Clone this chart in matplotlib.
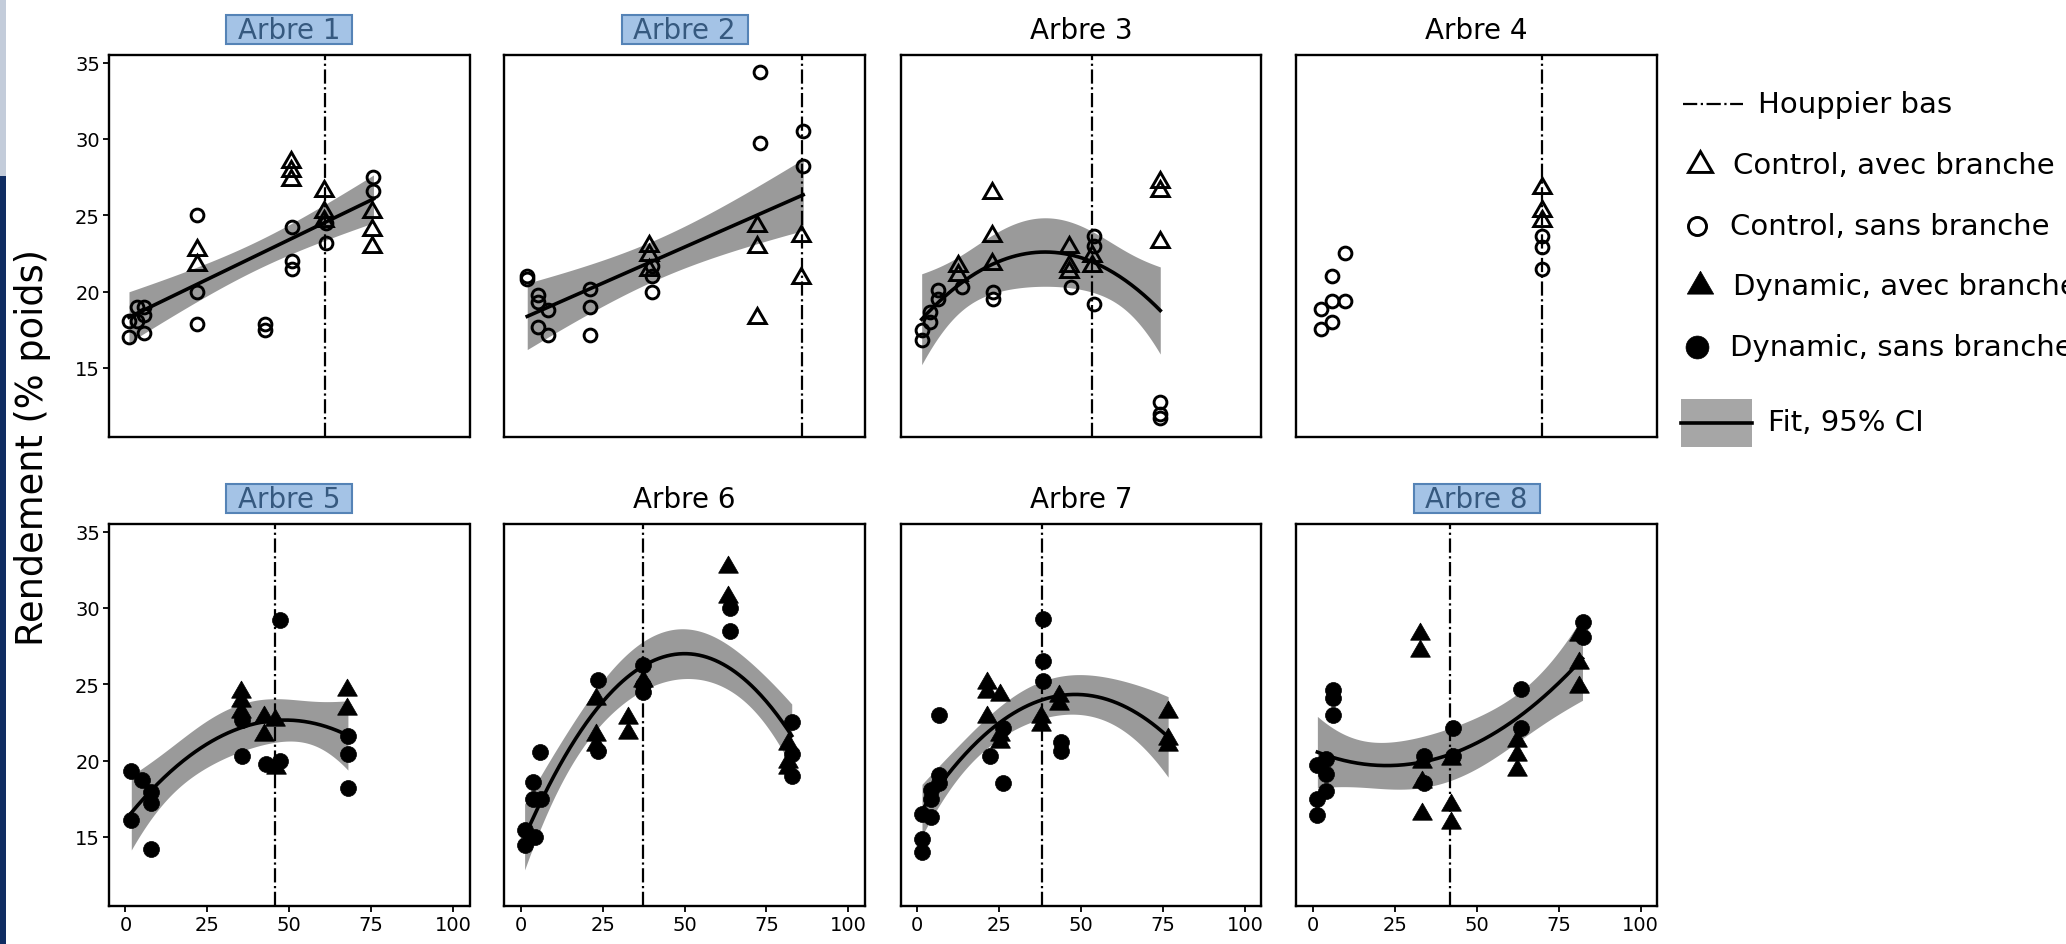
import numpy as np
import matplotlib
matplotlib.use("Agg")
import matplotlib.pyplot as plt
from matplotlib.lines import Line2D
from matplotlib.patches import Rectangle

# ---------------- data ----------------
titles = ["Arbre 1", "Arbre 2", "Arbre 3", "Arbre 4",
          "Arbre 5", "Arbre 6", "Arbre 7", "Arbre 8"]
highlighted = [True, True, False, False, True, False, False, True]
houppier_bas = [61.0, 85.7, 53.3, 70.0, 45.8, 37.2, 38.1, 42.0]
fit_degree = [1, 1, 2, 0, 2, 2, 2, 2]      # 0 = no fit drawn
dynamic = [False, False, False, False, True, True, True, True]
x_ticks = [0, 25, 50, 75, 100]
y_ticks = [15, 20, 25, 30, 35]

# Arbre 1 (Control)
a1_avec_x = [21.7, 21.7, 50.5, 50.5, 50.5, 60.6, 60.6, 60.6, 75.2, 75.2, 75.2]
a1_avec_y = [22.7, 21.75, 28.5, 27.9, 27.3, 26.6, 25.2, 24.6, 25.2, 24.0, 22.9]
a1_sans_x = [1.1, 1.1, 3.4, 3.4, 5.6, 5.6, 5.6, 21.7, 21.7, 21.7, 42.6, 42.6,
             50.8, 50.8, 50.8, 61.3, 61.3, 75.7, 75.7]
a1_sans_y = [18.1, 17.0, 19.0, 18.05, 19.0, 18.44, 17.29, 25.0, 20.0, 17.85, 17.9, 17.46,
             24.2, 22.0, 21.5, 24.5, 23.2, 27.5, 26.6]

# Arbre 2 (Control)
a2_avec_x = [39.2, 39.2, 39.2, 72.0, 72.0, 72.0, 85.5, 85.5]
a2_avec_y = [23.0, 22.4, 21.4, 24.3, 22.9, 18.27, 23.67, 20.88]
a2_sans_x = [2.0, 2.0, 5.4, 5.4, 8.4, 5.4, 8.4, 21.1, 21.1, 21.1, 40.0, 40.0, 40.0,
             73.0, 73.0, 86.2, 86.2]
a2_sans_y = [21.05, 20.8, 19.75, 19.3, 18.76, 17.68, 17.13, 20.18, 18.99, 17.18,
             21.7, 21.05, 19.97, 34.4, 29.73, 30.5, 28.24]

# Arbre 3 (Control)
a3_avec_x = [12.6, 12.6, 22.8, 22.8, 22.8, 46.4, 46.4, 46.4, 53.3, 53.3, 74.2, 74.2, 74.2]
a3_avec_y = [21.7, 21.1, 26.46, 23.63, 21.8, 22.9, 21.7, 21.27, 22.36, 21.7, 27.16, 26.6, 23.24]
a3_sans_x = [1.4, 1.4, 4.0, 4.0, 6.5, 6.5, 13.6, 23.3, 23.3, 46.9, 54.1, 54.1, 54.1,
             74.2, 74.2, 74.2]
a3_sans_y = [16.8, 17.5, 18.0, 18.66, 20.07, 19.53, 20.29, 19.97, 19.53, 20.3, 23.67, 23.0,
             19.2, 12.78, 12.0, 11.7]

# Arbre 4 (Control)
a4_avec_x = [70.0, 70.0, 70.0]
a4_avec_y = [26.8, 25.3, 24.65]
a4_sans_x = [9.7, 5.9, 9.7, 5.9, 2.4, 5.9, 2.4, 70.0, 70.0, 70.0]
a4_sans_y = [22.5, 21.05, 19.4, 19.4, 18.87, 18.0, 17.57, 23.67, 22.9, 21.45]

# Arbre 5 (Dynamic)
a5_avec_x = [35.3, 35.3, 35.3, 42.3, 42.3, 45.5, 46.1, 67.7, 67.7]
a5_avec_y = [24.5, 23.9, 23.2, 22.87, 21.67, 22.65, 19.5, 24.6, 23.4]
a5_sans_x = [1.8, 1.8, 5.1, 7.8, 7.8, 7.8, 35.6, 35.6, 42.8, 47.1, 47.1, 67.9, 67.9, 67.9]
a5_sans_y = [19.3, 16.1, 18.7, 17.95, 17.19, 14.19, 22.65, 20.31, 19.8, 29.2, 19.96,
             21.6, 20.4, 18.2]

# Arbre 6 (Dynamic)
a6_avec_x = [63.3, 63.3, 23.0, 23.0, 23.0, 32.7, 32.7, 37.4, 81.6, 81.6, 81.6]
a6_avec_y = [32.66, 30.74, 24.03, 21.67, 21.0, 22.8, 21.8, 25.2, 21.1, 19.9, 19.5]
a6_sans_x = [1.2, 1.2, 4.3, 3.8, 3.8, 6.3, 6.0, 23.7, 23.7, 37.4, 37.4, 37.4,
             63.8, 63.8, 82.7, 82.7, 82.7]
a6_sans_y = [15.48, 14.45, 15.0, 18.6, 17.47, 17.47, 20.53, 25.3, 20.6, 26.26, 24.95, 24.5,
             29.97, 28.5, 22.5, 20.46, 19.0]

# Arbre 7 (Dynamic)
a7_avec_x = [21.4, 21.4, 25.4, 21.4, 25.4, 25.4, 37.9, 37.9, 43.4, 43.4, 76.6, 76.6, 76.6]
a7_avec_y = [25.05, 24.5, 24.3, 22.87, 21.7, 21.2, 22.87, 22.3, 24.2, 23.7, 23.2, 21.4, 21.0]
a7_sans_x = [1.5, 1.5, 1.5, 4.1, 4.1, 4.1, 6.6, 6.6, 6.6, 22.2, 26.2, 26.2,
             38.5, 38.5, 38.5, 44.0, 44.0]
a7_sans_y = [14.85, 14.0, 16.5, 16.3, 17.5, 18.06, 18.5, 19.04, 23.0, 20.29, 18.5, 22.1,
             29.27, 26.5, 25.23, 21.2, 20.62]

# Arbre 8 (Dynamic)
a8_avec_x = [32.6, 32.6, 33.2, 33.2, 33.2, 42.2, 42.2, 42.2, 62.4, 62.4, 62.4, 81.3, 81.3, 81.3]
a8_avec_y = [28.3, 27.17, 19.9, 18.6, 16.5, 20.1, 17.1, 15.9, 21.3, 20.35, 19.37, 28.2, 26.4, 24.8]
a8_sans_x = [1.4, 1.4, 1.4, 4.1, 4.1, 4.1, 6.3, 6.3, 6.3, 33.9, 33.9, 42.9, 42.9,
             63.5, 63.5, 82.3, 82.3]
a8_sans_y = [16.46, 17.5, 19.7, 19.1, 18.0, 20.1, 24.6, 24.07, 22.98, 20.3, 18.5, 22.15,
             20.3, 24.7, 22.15, 29.05, 28.1]

avec_x = [a1_avec_x, a2_avec_x, a3_avec_x, a4_avec_x, a5_avec_x, a6_avec_x, a7_avec_x, a8_avec_x]
avec_y = [a1_avec_y, a2_avec_y, a3_avec_y, a4_avec_y, a5_avec_y, a6_avec_y, a7_avec_y, a8_avec_y]
sans_x = [a1_sans_x, a2_sans_x, a3_sans_x, a4_sans_x, a5_sans_x, a6_sans_x, a7_sans_x, a8_sans_x]
sans_y = [a1_sans_y, a2_sans_y, a3_sans_y, a4_sans_y, a5_sans_y, a6_sans_y, a7_sans_y, a8_sans_y]

T_CRIT = 2.0
BAND = "#9a9a9a"
TRI = (3, 0, 0)


def poly_fit_band(x, y, deg, grid):
    X = np.vander(x, deg + 1)
    coef = np.linalg.lstsq(X, y, rcond=None)[0]
    resid = y - X @ coef
    n, p = X.shape
    s2 = resid @ resid / (n - p)
    cov = s2 * np.linalg.inv(X.T @ X)
    G = np.vander(grid, deg + 1)
    yhat = G @ coef
    se = np.sqrt(np.einsum("ij,jk,ik->i", G, cov, G))
    return yhat, se


# ---------------- figure ----------------
W, H = 2066, 945
fig = plt.figure(figsize=(W / 100, H / 100), dpi=100)

col_left = [109, 504.3, 900.7, 1296.4]
row_top = [56, 525]
ax_w, ax_h = 360.5, 381.5

for i in range(8):
    r, c = divmod(i, 4)
    ax = fig.add_axes([col_left[c] / W, 1 - (row_top[r] + ax_h) / H, ax_w / W, ax_h / H])
    ax.set_xlim(-5, 105)
    ax.set_ylim(10.5, 35.5)
    for sp in ax.spines.values():
        sp.set_linewidth(1.7)
        sp.set_color("black")
    ax.set_xticks(x_ticks)
    ax.set_yticks(y_ticks)
    ax.tick_params(labelsize=14, length=4, width=1.3, pad=2.5, color="black")
    if c != 0:
        ax.tick_params(left=False, labelleft=False)
    if r == 0:
        ax.tick_params(bottom=False, labelbottom=False)

    ax_, ay_ = np.array(avec_x[i]), np.array(avec_y[i])
    sx_, sy_ = np.array(sans_x[i]), np.array(sans_y[i])

    deg = fit_degree[i]
    if deg > 0:
        xa = np.concatenate([ax_, sx_])
        ya = np.concatenate([ay_, sy_])
        grid = np.linspace(xa.min(), xa.max(), 200)
        yhat, se = poly_fit_band(xa, ya, deg, grid)
        ax.fill_between(grid, yhat - T_CRIT * se, yhat + T_CRIT * se, color=BAND, lw=0, zorder=1)
        ax.plot(grid, yhat, color="black", lw=2.6, zorder=2)

    ax.axvline(houppier_bas[i], color="black", lw=1.6, ls="-.", zorder=2)

    if dynamic[i]:
        ax.plot(ax_, ay_, ls="none", marker=TRI, ms=16.5, mfc="black", mec="black", mew=0.5, zorder=3)
        ax.plot(sx_, sy_, ls="none", marker="o", ms=11.5, mfc="black", mec="black", mew=0.5, zorder=3)
    else:
        ax.plot(ax_, ay_, ls="none", marker=TRI, ms=14.5, mfc="none", mec="black", mew=2.1, zorder=3)
        ax.plot(sx_, sy_, ls="none", marker="o", ms=9.2, mfc="none", mec="black", mew=2.1, zorder=3)

    if highlighted[i]:
        ax.set_title(titles[i], fontsize=20, pad=12, color="#36597f")
        bw = 126 / ax_w
        ax.add_patch(Rectangle((0.5 - bw / 2, 1 + 11 / ax_h), bw, 29 / ax_h,
                               transform=ax.transAxes, clip_on=False,
                               facecolor="#a4c3e6", edgecolor="#5583b6", lw=1.5, zorder=0))
    else:
        ax.set_title(titles[i], fontsize=20, pad=12, color="black")

# y label
fig.text(33 / W, 1 - 448 / H, "Rendement (% poids)", rotation=90, fontsize=26.5,
         ha="center", va="center")

# left-edge strip from the screenshot
fig.add_artist(Rectangle((0, 0), 6 / W, 1 - 177 / H, transform=fig.transFigure,
                         facecolor="#0f2c62", edgecolor="none"))
fig.add_artist(Rectangle((0, 1 - 177 / H), 6 / W, 177 / H, transform=fig.transFigure,
                         facecolor="#c3ccda", edgecolor="none"))


# ---------------- manual legend ----------------
def fx(px):
    return px / W


def fy(py):
    return 1 - py / H


LFS = 21
fig.add_artist(Line2D([fx(1683), fx(1743)], [fy(105), fy(105)], color="black", lw=1.6,
                      ls="-.", transform=fig.transFigure))
fig.text(fx(1758), fy(105), "Houppier bas", fontsize=LFS, va="center", ha="left")

fig.add_artist(Line2D([fx(1700)], [fy(166)], marker=TRI, ms=20, mfc="none", mec="black",
                      mew=2.1, transform=fig.transFigure))
fig.text(fx(1733), fy(166), "Control, avec branche", fontsize=LFS, va="center", ha="left")

fig.add_artist(Line2D([fx(1697)], [fy(227)], marker="o", ms=13, mfc="none", mec="black",
                      mew=2.1, transform=fig.transFigure))
fig.text(fx(1730), fy(227), "Control, sans branche", fontsize=LFS, va="center", ha="left")

fig.add_artist(Line2D([fx(1700)], [fy(287)], marker=TRI, ms=22, mfc="black", mec="black",
                      mew=0.5, transform=fig.transFigure))
fig.text(fx(1733), fy(287), "Dynamic, avec branche", fontsize=LFS, va="center", ha="left")

fig.add_artist(Line2D([fx(1697)], [fy(348)], marker="o", ms=16.5, mfc="black", mec="black",
                      mew=0.5, transform=fig.transFigure))
fig.text(fx(1730), fy(348), "Dynamic, sans branche", fontsize=LFS, va="center", ha="left")

fig.add_artist(Rectangle((fx(1681), fy(448)), fx(1752) - fx(1681), fy(400) - fy(448),
                         transform=fig.transFigure, facecolor="#a6a6a6", edgecolor="none"))
fig.add_artist(Line2D([fx(1681), fx(1752)], [fy(424), fy(424)], color="black", lw=2.6,
                      transform=fig.transFigure))
fig.text(fx(1768), fy(423), "Fit, 95% CI", fontsize=LFS, va="center", ha="left")

fig.savefig("out.png", dpi=100)
